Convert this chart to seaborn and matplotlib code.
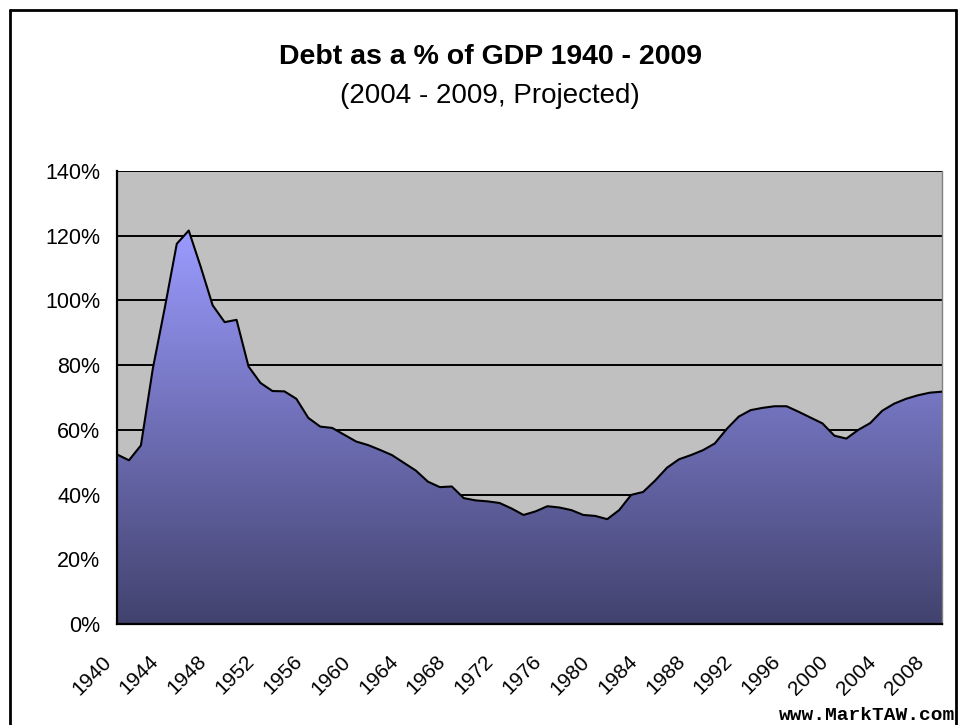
import numpy as np
import pandas as pd
import matplotlib
matplotlib.use("Agg")
import matplotlib.pyplot as plt
import matplotlib.transforms as mtransforms
import seaborn as sns
from matplotlib.colors import LinearSegmentedColormap
from matplotlib.lines import Line2D

# Debt as % of GDP
years = list(range(1940, 2010))
debt_pct = [
    52.4, 50.6, 55.2, 79.0, 97.8, 117.5, 121.6, 110.4, 98.5, 93.3,
    94.0, 79.6, 74.5, 72.0, 71.9, 69.6, 63.7, 61.0, 60.6, 58.5,
    56.4, 55.3, 53.8, 52.2, 49.8, 47.4, 44.0, 42.3, 42.5, 38.9,
    38.2, 37.9, 37.4, 35.7, 33.7, 34.8, 36.4, 36.0, 35.2, 33.7,
    33.4, 32.4, 35.2, 39.9, 40.8, 44.3, 48.3, 50.9, 52.2, 53.7,
    55.8, 60.3, 64.1, 66.1, 66.8, 67.3, 67.3, 65.6, 63.8, 62.0,
    58.2, 57.3, 60.0, 62.1, 65.9, 68.1, 69.6, 70.7, 71.5, 71.8,
]
tick_years = list(range(1940, 2009, 4))
y_ticks = [0, 20, 40, 60, 80, 100, 120, 140]

df = pd.DataFrame({"year": years, "debt": debt_pct})

sns.set_theme(style="white")
plt.rcParams["font.family"] = ["Liberation Sans", "DejaVu Sans"]

fig = plt.figure(figsize=(9.59, 7.25), dpi=100)
ax = fig.add_axes([117 / 959, 1 - 624 / 725, 825 / 959, 453 / 725])
ax.set_facecolor("#C0C0C0")

# area with vertical gradient, clipped to the filled polygon
fill = ax.fill_between(df["year"], df["debt"], 0, facecolor="none", edgecolor="none")
cmap = LinearSegmentedColormap.from_list("debt", ["#42426E", "#9B9BFF"])
grad = np.linspace(0, 1, 256).reshape(-1, 1)
img = ax.imshow(grad, cmap=cmap, origin="lower", aspect="auto",
                extent=[df["year"].min(), df["year"].max(), 0, df["debt"].max()],
                zorder=2, interpolation="bilinear")
img.set_clip_path(fill.get_paths()[0], transform=ax.transData)

sns.lineplot(data=df, x="year", y="debt", color="black", linewidth=1.5, ax=ax, zorder=3)

ax.set_xlim(1940, 2009)
ax.set_ylim(0, 140)
ax.set_xticks(tick_years)
ax.set_xticklabels([str(y) for y in tick_years], rotation=45, ha="right",
                   va="center", rotation_mode="anchor", fontsize=15)
ax.set_yticks(y_ticks)
ax.set_yticklabels([f"{v}%" for v in y_ticks], fontsize=15.5)
ax.set_xlabel("")
ax.set_ylabel("")

ax.set_axisbelow(True)
ax.yaxis.grid(True, color="black", linewidth=1.4)
ax.xaxis.grid(False)
ax.tick_params(axis="both", direction="out", length=7, width=1.3, color="black",
               labelcolor="black")
ax.tick_params(axis="y", pad=5)
ax.tick_params(axis="x", pad=0)
# shift the slanted year labels down-left, as in the original
shift = mtransforms.ScaledTranslation(-9 / 100, -25 / 100, fig.dpi_scale_trans)
for lab in ax.get_xticklabels():
    lab.set_transform(lab.get_transform() + shift)

ax.spines["left"].set_color("black")
ax.spines["left"].set_linewidth(1.6)
ax.spines["bottom"].set_color("black")
ax.spines["bottom"].set_linewidth(1.6)
ax.spines["top"].set_visible(False)
ax.spines["right"].set_color("#808080")
ax.spines["right"].set_linewidth(1.0)

fig.text(0.511, 1 - 57 / 725, "Debt as a % of GDP 1940 - 2009", ha="center",
         va="center", fontsize=20.5, fontweight="bold", color="black")
fig.text(0.511, 1 - 96 / 725, "(2004 - 2009, Projected)", ha="center",
         va="center", fontsize=20, color="black")
fig.text(955 / 959, 1 - 716 / 725, "www.MarkTAW.com", ha="right", va="center",
         fontsize=14, fontweight="bold", family="Liberation Mono", color="black")

# outer chart border (bottom edge runs off the picture)
x0, x1, y1 = 10 / 959, 956 / 959, 1 - 10 / 725
for xs, ys in [([x0, x0], [0, y1]), ([x0, x1], [y1, y1]), ([x1, x1], [y1, 0])]:
    fig.add_artist(Line2D(xs, ys, color="black", linewidth=2, transform=fig.transFigure))

fig.savefig("out.png", dpi=100)
